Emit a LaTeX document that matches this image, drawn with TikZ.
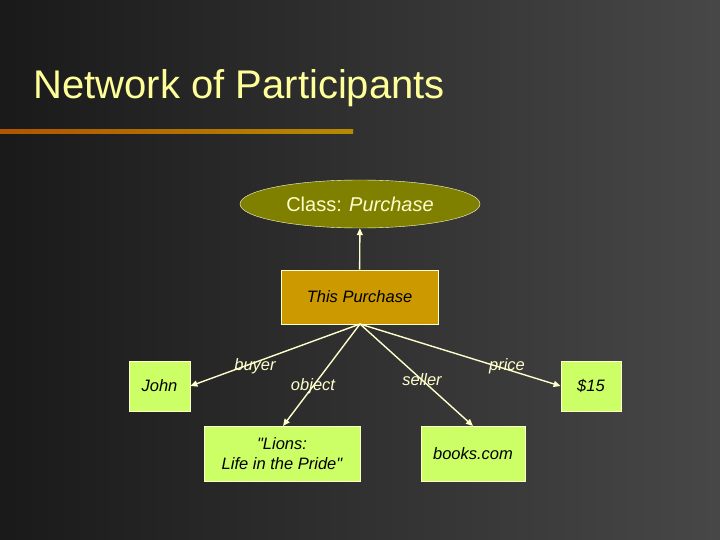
\documentclass[tikz,border=0pt]{standalone}
\usepackage{fontspec}
\setmainfont{Liberation Sans}
\usetikzlibrary{shapes.geometric,arrows.meta}
\definecolor{olivef}{HTML}{7F7F00}
\definecolor{goldf}{HTML}{CC9900}
\definecolor{limef}{HTML}{CCFF66}
\definecolor{titlec}{HTML}{FFFF99}
\definecolor{linec}{HTML}{FFFFCC}
\begin{document}
\begin{tikzpicture}[x=1pt,y=-1pt,
  box/.style={draw=linec,line width=0.8pt,fill=limef,minimum height=50pt,align=center,inner sep=2pt,font=\fontsize{16.5}{20}\selectfont\itshape,text=black},
  conn/.style={draw=linec,line width=1.4pt,-{Triangle[length=7pt,width=6pt]}},
  lab/.style={font=\fontsize{16.5}{20}\selectfont\itshape,text=linec}]
\useasboundingbox (0,0) rectangle (720,540);
\shade[shading angle=125,left color=black!90,right color=black!72] (0,0) rectangle (720,540);
\node[anchor=west,text=titlec,font=\fontsize{40}{46}\selectfont] (title) at (30,88) {Network of Participants};
\shade[left color=goldf!70!red!80!black,right color=goldf!90!black] (0,130) rectangle (353,134);
\node[ellipse,draw=linec,fill=olivef,minimum width=240pt,minimum height=48pt,text=linec,font=\fontsize{20}{24}\selectfont] (cls) at (360,204) {Class: \textit{Purchase}};
\node[box,fill=goldf,minimum width=157pt,minimum height=54pt] (tp) at (359.5,297) {This Purchase};
\node[box,minimum width=61pt] (john) at (159.5,386) {John};
\node[box,minimum width=60pt] (price) at (591,386) {\$15};
\node[box,minimum width=156pt,minimum height=55pt] (lions) at (282,453.5) {\textquotedbl Lions:\\Life in the Pride\textquotedbl};
\node[box,minimum width=104pt,minimum height=55pt] (books) at (473,453.5) {books.com};
\coordinate (o) at (360,324);
\draw[conn] (tp) -- (cls);
\draw[conn] (o) -- (john.east);
\draw[conn] (o) -- (283,426) coordinate (l1);
\draw[conn] (o) -- (473,426) coordinate (b1);
\draw[conn] (o) -- (price.west);
\node[lab] (lb) at (255,366) {buyer};
\node[lab] (lo) at (313,386) {object};
\node[lab] (ls) at (422,380) {seller};
\node[lab] (lp) at (507,366) {price};
\end{tikzpicture}
\end{document}
